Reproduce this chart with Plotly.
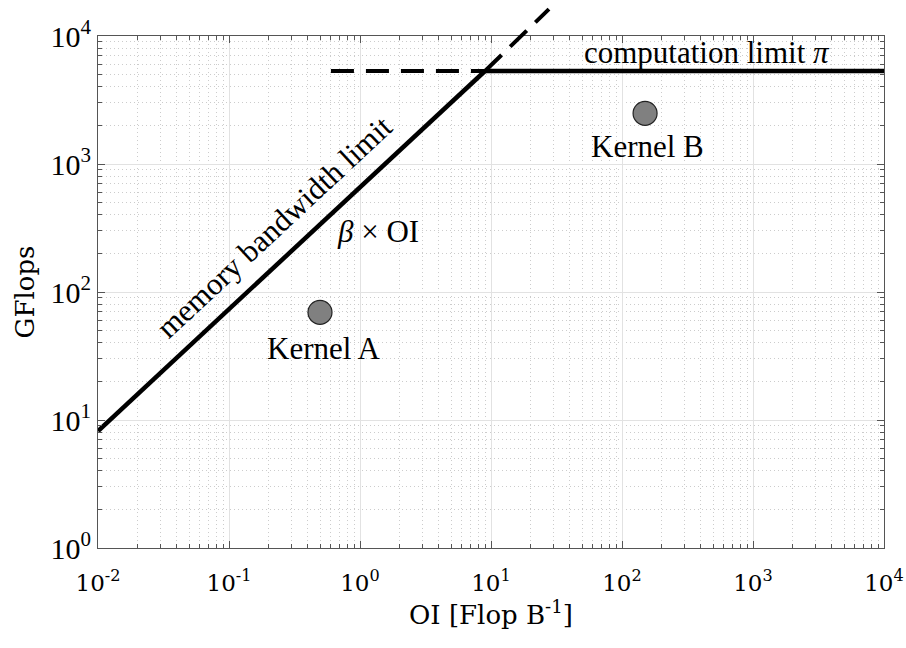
import plotly.graph_objects as go

# ---- data ----
x_ticks = [1e-2, 1e-1, 1e0, 1e1, 1e2, 1e3, 1e4]
x_tick_text = ["10<sup>-2</sup>", "10<sup>-1</sup>", "10<sup>0</sup>", "10<sup>1</sup>",
               "10<sup>2</sup>", "10<sup>3</sup>", "10<sup>4</sup>"]
y_ticks = [1e0, 1e1, 1e2, 1e3, 1e4]
y_tick_text = ["10<sup>0</sup>", "10<sup>1</sup>", "10<sup>2</sup>", "10<sup>3</sup>", "10<sup>4</sup>"]

mem_oi = [0.01, 9.0]
mem_gflops = [8.2, 5330]
mem_ext_oi = [9.0, 27.7]
mem_ext_gflops = [5330, 16200]
roof_oi = [9.0, 1e4]
roof_gflops = [5330, 5330]
roof_ext_oi = [0.60, 9.0]
roof_ext_gflops = [5330, 5330]

kernel_names = ["Kernel A", "Kernel B"]
kernel_oi = [0.495, 150]
kernel_gflops = [69.4, 2489]

# ---- layout geometry ----
W, H = 906, 648
ML, MR, MT, MB = 98, 22, 0, 100
plot_h = H - MT - MB
y_top_frac = (plot_h - 36) / plot_h
X_RANGE = [-2, 4]
Y_RANGE = [0, 4]
y2_range = [0, 4 / y_top_frac]

FONT = "Liberation Serif"
SANS_SERIF = "DejaVu Serif"
GRID = "#e2e2e2"
MINOR_GRID = "#cccccc"
AX = "#555555"

fig = go.Figure()

fig.add_trace(go.Scatter(x=roof_ext_oi, y=roof_ext_gflops, mode="lines",
                         line=dict(color="black", width=4, dash="23px,12px")))
fig.add_trace(go.Scatter(x=mem_ext_oi, y=mem_ext_gflops, mode="lines",
                         xaxis="x2", yaxis="y2",
                         line=dict(color="black", width=4, dash="23px,12px")))
fig.add_trace(go.Scatter(x=mem_oi, y=mem_gflops, mode="lines",
                         line=dict(color="black", width=4.5)))
fig.add_trace(go.Scatter(x=roof_oi, y=roof_gflops, mode="lines",
                         line=dict(color="black", width=4.5)))
fig.add_trace(go.Scatter(x=kernel_oi, y=kernel_gflops, mode="markers",
                         marker=dict(size=24, color="#808080",
                                     line=dict(color="#222222", width=1.2))))

axis_common = dict(
    type="log", showline=True, linecolor=AX, linewidth=1.2, mirror="allticks",
    ticks="inside", ticklen=7, tickcolor=AX, tickwidth=1, automargin=False,
    showgrid=True, gridcolor=GRID, gridwidth=1, zeroline=False,
    minor=dict(ticks="inside", ticklen=4, tickcolor=AX, dtick="D1",
               showgrid=True, gridcolor=MINOR_GRID, griddash="1px,3px", gridwidth=1),
)

fig.update_layout(
    width=W, height=H,
    margin=dict(l=ML, r=MR, t=MT, b=MB, autoexpand=False),
    paper_bgcolor="white", plot_bgcolor="rgba(0,0,0,0)",
    showlegend=False,
    xaxis=dict(axis_common, range=X_RANGE, domain=[0, 1], anchor="y",
               tickvals=x_ticks, ticktext=x_tick_text, ticklabelstandoff=14,
               tickfont=dict(family=SANS_SERIF, size=23, color="black"),
               title=dict(text="OI [Flop B<sup>-1</sup>]",
                          font=dict(family=SANS_SERIF, size=26, color="black"), standoff=0)),
    yaxis=dict(axis_common, range=Y_RANGE, domain=[0, y_top_frac], anchor="x",
               tickvals=y_ticks, ticktext=y_tick_text,
               tickfont=dict(family=FONT, size=30, color="black"),
               title=dict(text="GFlops", font=dict(family=SANS_SERIF, size=26, color="black"),
                          standoff=8)),
    xaxis2=dict(type="log", range=X_RANGE, domain=[0, 1], anchor="y2",
                visible=False, showgrid=False, automargin=False),
    yaxis2=dict(type="log", range=y2_range, domain=[0, 1], anchor="x2",
                visible=False, showgrid=False, automargin=False),
)

ann_font = dict(family=FONT, size=31, color="black")
fig.add_annotation(x=2.649, y=3.875, xref="x", yref="y", text="computation limit <i>π</i>",
                   showarrow=False, font=ann_font, xanchor="center", yanchor="middle")
fig.add_annotation(x=-0.65, y=2.51, xref="x", yref="y", text="memory bandwidth limit",
                   showarrow=False, font=ann_font, textangle=-43,
                   xanchor="center", yanchor="middle")
fig.add_annotation(x=0.137, y=2.469, xref="x", yref="y", text="<i>β</i> × OI",
                   showarrow=False, font=ann_font, xanchor="center", yanchor="middle")
fig.add_annotation(x=-0.282, y=1.555, xref="x", yref="y", text=kernel_names[0],
                   showarrow=False, font=ann_font, xanchor="center", yanchor="middle")
fig.add_annotation(x=2.195, y=3.133, xref="x", yref="y", text=kernel_names[1],
                   showarrow=False, font=ann_font, xanchor="center", yanchor="middle")

fig.write_html("out.html")
